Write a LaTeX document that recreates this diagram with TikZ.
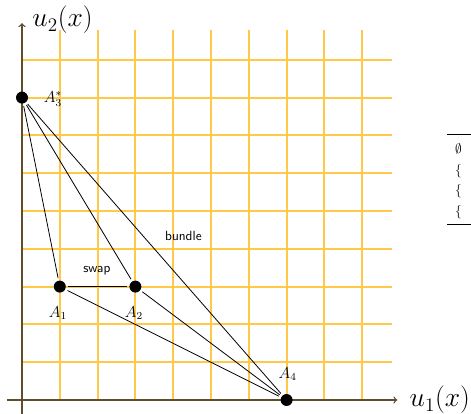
\documentclass[tikz,border=0pt]{standalone}
\usepackage{booktabs}
\definecolor{gridorange}{RGB}{255,200,72}
\definecolor{axisbrown}{RGB}{95,78,45}
\begin{document}
\begin{tikzpicture}[
  gridline/.style={draw=gridorange, line width=1.4pt},
  axisline/.style={->, line width=1pt, draw=axisbrown},
  pt/.style={circle, fill=black, inner sep=0pt, minimum size=9pt, outer sep=2pt},
  edgeline/.style={line width=0.6pt, black},
  lab/.style={font=\sffamily, inner sep=1pt},
  ptlab/.style={font=\large, inner sep=1pt}
]
\useasboundingbox (-0.582,-0.344) rectangle (11.878,10.582);
% grid
\draw[gridline] (0,0) grid (9.8,9.8);
% axes
\draw[axisline] (-0.4,0) -- (9.93,0);
\draw[axisline] (0,-0.4) -- (0,9.97);
\node[anchor=west, inner sep=0pt] (xl) at (10.25,0) {\huge $u_1(x)$};
\node[anchor=west, inner sep=0pt] (yl) at (0.27,10.05) {\huge $u_2(x)$};
% points
\node[pt] (A3) at (0,8) {};
\node[pt] (A1) at (1,3) {};
\node[pt] (A2) at (3,3) {};
\node[pt] (A4) at (7,0) {};
% edges
\draw[edgeline] (A3) -- (A1);
\draw[edgeline] (A3) -- (A2);
\draw[edgeline] (A3) -- (A4);
\draw[edgeline] (A1) -- (A2);
\draw[edgeline] (A1) -- (A4);
\draw[edgeline] (A2) -- (A4);
% labels
\node[ptlab] (lA1) at (0.95,2.30) {$A_1$};
\node[ptlab] (lA2) at (2.96,2.30) {$A_2$};
\node[ptlab] (lA3) at (0.82,7.97) {$A_3^*$};
\node[ptlab] (lA4) at (7.03,0.69) {$A_4$};
\node[lab] (swap) at (1.98,3.41) {swap};
\node[lab] (bundle) at (4.27,4.34) {bundle};
% table (cut by the page edge)
\begin{scope}
\clip (-0.582,-0.344) rectangle (11.878,10.582);
\node[anchor=north west, inner sep=0pt] (tbl) at (11.24,7.04)
  {\renewcommand{\arraystretch}{1.3}\begin{tabular}{p{2cm}}\toprule
   $\emptyset$\\ $\{$\\ $\{$\\ $\{$\\ \bottomrule\end{tabular}};
\end{scope}
\end{tikzpicture}
\end{document}
